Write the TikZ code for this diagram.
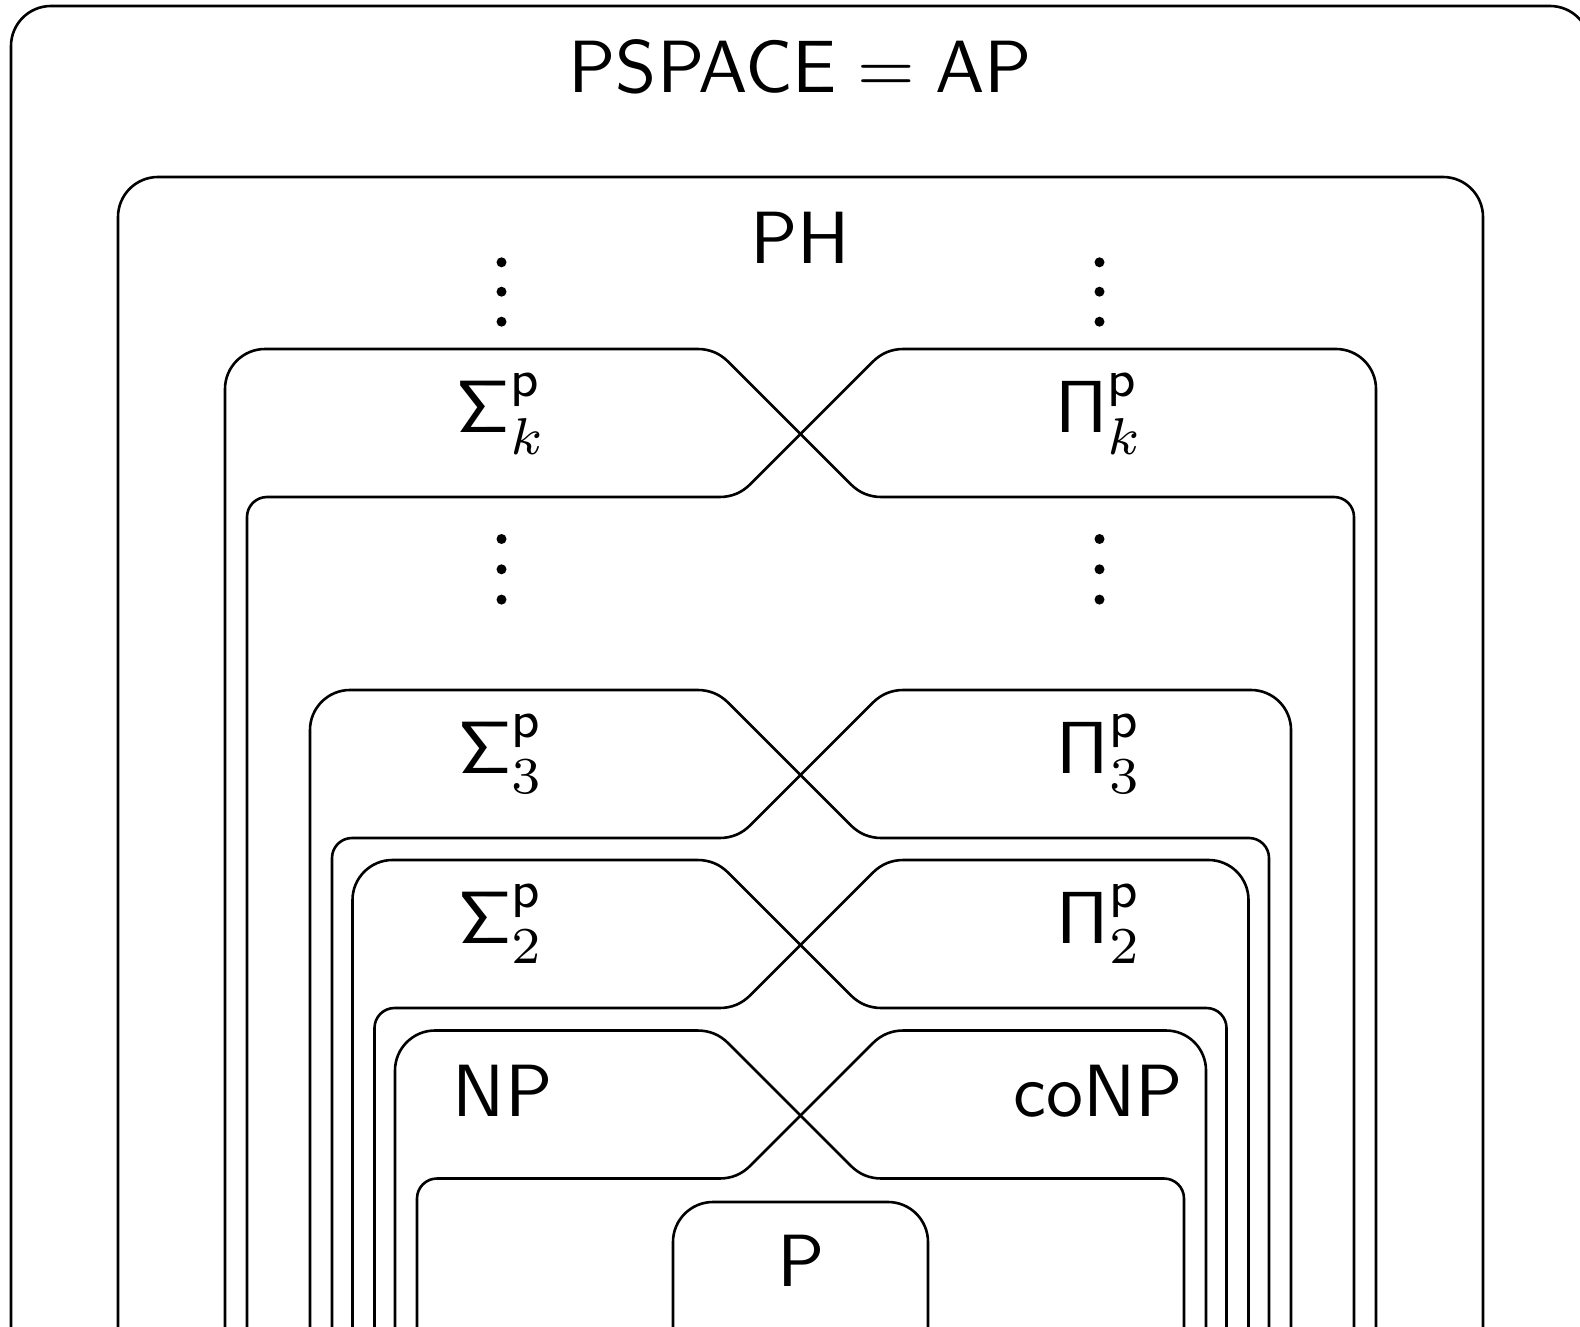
\documentclass[tikz,border=0pt]{standalone}
\newcommand\biglbl[1]{\scalebox{7.4}{#1}}
\newcommand\levelpair[3]{%
  \pgfmathsetmacro\lvT{#1}%
  \pgfmathsetmacro\lvB{#1+148}%
  \pgfmathsetmacro\lvLo{800.5-#2}%
  \pgfmathsetmacro\lvRo{800.5+#2}%
  \pgfmathsetmacro\lvLi{800.5-#3}%
  \pgfmathsetmacro\lvRi{800.5+#3}%
  % Sigma side
  \draw[frame] (\lvLo,1400) -- (\lvLo,{\lvT+40})
    .. controls (\lvLo,{\lvT+17.92}) and ({\lvLo+17.92},\lvT) .. ({\lvLo+40},\lvT)
    -- ({800.5-103},\lvT)
    .. controls ({800.5-91},\lvT) and ({800.5-80.76},{\lvT+4.24}) .. ({800.5-72.27},{\lvT+12.73})
    -- ({800.5+50.27},{\lvB-12.73})
    .. controls ({800.5+58.76},{\lvB-4.24}) and ({800.5+69},\lvB) .. ({800.5+81},\lvB)
    -- ({\lvRi-20},\lvB)
    .. controls ({\lvRi-8.96},\lvB) and (\lvRi,{\lvB+8.96}) .. (\lvRi,{\lvB+20})
    -- (\lvRi,1400);
  % Pi side
  \draw[frame] (\lvRo,1400) -- (\lvRo,{\lvT+40})
    .. controls (\lvRo,{\lvT+17.92}) and ({\lvRo-17.92},\lvT) .. ({\lvRo-40},\lvT)
    -- ({800.5+103},\lvT)
    .. controls ({800.5+91},\lvT) and ({800.5+80.76},{\lvT+4.24}) .. ({800.5+72.27},{\lvT+12.73})
    -- ({800.5-50.27},{\lvB-12.73})
    .. controls ({800.5-58.76},{\lvB-4.24}) and ({800.5-69},\lvB) .. ({800.5-81},\lvB)
    -- ({\lvLi+20},\lvB)
    .. controls ({\lvLi+8.96},\lvB) and (\lvLi,{\lvB+8.96}) .. (\lvLi,{\lvB+20})
    -- (\lvLi,1400);
}
\begin{document}
\begin{tikzpicture}[x=1pt,y=-1pt,
  frame/.style={line width=2.6pt, line join=round},
  boxframe/.style={frame, rounded corners=40pt},
  lbl/.style={anchor=base, inner sep=0pt},
  dotmark/.style={fill=black}]
\useasboundingbox (0,0) rectangle (1580,1327);
\clip (0,0) rectangle (1580,1327);
\fill[white] (0,0) rectangle (1580,1327);

% outer boxes
\draw[boxframe] (11,1400) -- (11,6) -- (1590,6) -- (1590,1400);
\draw[boxframe] (118,1400) -- (118,177) -- (1483,177) -- (1483,1400);

% levels
\levelpair{349}{575.5}{553.5}
\levelpair{690}{490.5}{468.5}
\levelpair{860}{448}{426}
\levelpair{1030.5}{405.5}{383.5}

% P box
\draw[boxframe] (673,1400) -- (673,1202) -- (928,1202) -- (928,1400);

% dots
\foreach \yy in {262.3,291.7,321.7,539,569.3,599.6}{
  \fill[dotmark] (501.5,\yy) circle[radius=5pt];
  \fill[dotmark] (1099.5,\yy) circle[radius=5pt];
}

% labels
\node[lbl] (pspace) at (800.5,92.5) {\biglbl{$\mathsf{PSPACE}=\mathsf{AP}$}};
\node[lbl] (ph) at (800.5,263.5) {\biglbl{$\mathsf{PH}$}};
\node[lbl] (sk) at (501.5,432.5) {\biglbl{$\mathsf{\Sigma}^{\mathsf{p}}_{k}$}};
\node[lbl] (pk) at (1099.5,432.5) {\biglbl{$\mathsf{\Pi}^{\mathsf{p}}_{k}$}};
\node[lbl] (s3) at (501.5,773.3) {\biglbl{$\mathsf{\Sigma}^{\mathsf{p}}_{3}$}};
\node[lbl] (p3) at (1099.5,773.3) {\biglbl{$\mathsf{\Pi}^{\mathsf{p}}_{3}$}};
\node[lbl] (s2) at (501.5,943.3) {\biglbl{$\mathsf{\Sigma}^{\mathsf{p}}_{2}$}};
\node[lbl] (p2) at (1099.5,943.3) {\biglbl{$\mathsf{\Pi}^{\mathsf{p}}_{2}$}};
\node[lbl] (np) at (502.5,1116.5) {\biglbl{$\mathsf{NP}$}};
\node[lbl] (conp) at (1098.5,1116.5) {\biglbl{$\mathsf{coNP}$}};
\node[lbl] (p) at (801,1286) {\biglbl{$\mathsf{P}$}};
\end{tikzpicture}
\end{document}
